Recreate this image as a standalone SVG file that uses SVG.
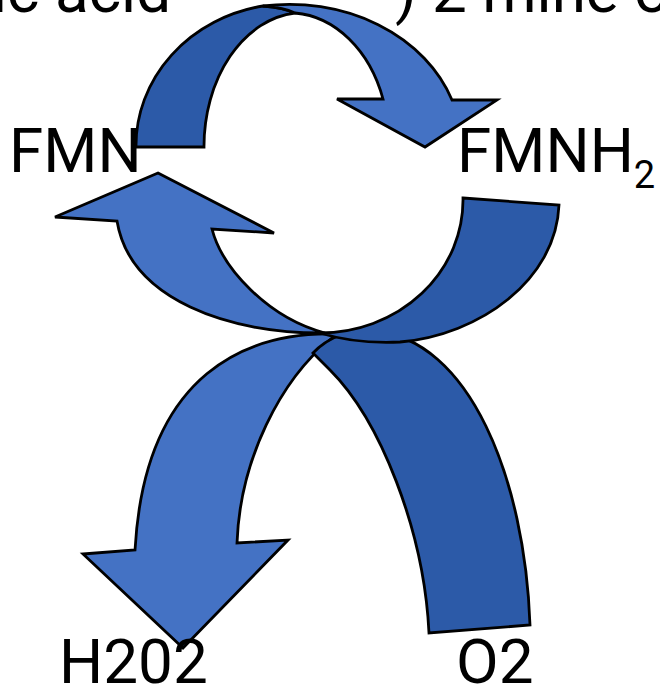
<svg xmlns="http://www.w3.org/2000/svg" width="660" height="690" viewBox="0 0 660 690">
<style>
.l{fill:#4472C4;stroke:#000;stroke-width:2.8;stroke-linejoin:miter}
.d{fill:#2C5AA8;stroke:#000;stroke-width:2.8;stroke-linejoin:miter}
.t{font-family:Roboto,"Liberation Sans",sans-serif;font-size:62px;fill:#000}
</style>
<rect width="660" height="690" fill="#fff"/>
<g id="header"><text class="t" x="-8" y="12">ic acid</text><text class="t" x="395" y="12">) 2 mine o</text></g>
<g id="connectors">
<g id="h2o2-arrow"><path class="l" d="M335,334 C250,332 145,370 135,550 L83,554 L183,648 L288,540 L237,543 C240,460 280,380 332,338 Z"/></g>
<g id="o2-band"><path class="d" d="M313,353 C330,335 350,330 373,331 C470,338 525,480 530,625 L429,633 C424,530 380,420 330,370 Z"/></g>
<g id="fmnh2-band"><path class="d" d="M463,198 L559,205 C556,280 480,335 400,342 Q355,344 320,333 A143,133 0 0 0 463,198 Z"/></g>
<g id="fmn-arrow"><path class="l" d="M158,173 L274,233 L212,229 C222,268 268,318 325,333 C230,334 130,300 117,221 L55,217 Z"/></g>
<g id="top-dark"><path class="d" d="M136,147 A154,142 0 0 1 263,6 C275,7 287,9 295,13 A100,134 0 0 0 204,147 Z"/></g>
<g id="top-light"><path class="l" d="M263,6 A172,142 0 0 1 452,100 L497,100 L425,147 L337,99 L383,99 A100,128 0 0 0 295,13 C287,9 275,7 263,6 Z"/></g>
</g>
<g id="FMN"><text class="t" x="9" y="172">FMN</text></g>
<g id="FMNH2"><text class="t" x="457" y="172">FMNH<tspan font-size="38" dy="16">2</tspan></text></g>
<g id="H2O2"><text class="t" x="59" y="683">H202</text></g>
<g id="O2"><text class="t" x="456" y="683">O2</text></g>
</svg>
